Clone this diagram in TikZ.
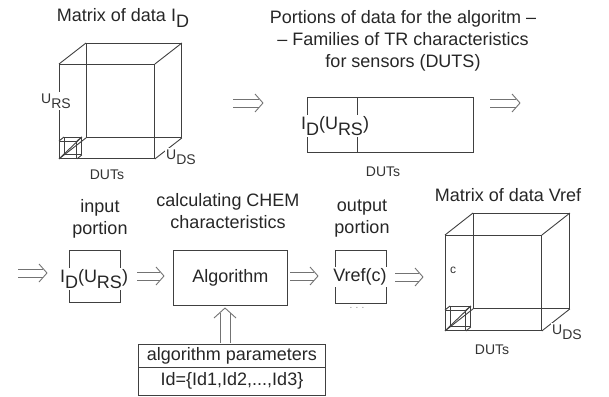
\documentclass[tikz,border=0pt]{standalone}
\usepackage{fontspec}
\setmainfont{Liberation Sans}
\usepackage{graphicx}
\newcommand{\lo}[1]{\raisebox{-0.7ex}{#1}}
% horizontal double arrow (open chevron head) from #1 to #2
\newcommand{\hdarr}[2]{%
  \draw[arrln] ([yshift=4pt]#1) -- ([xshift=-3.6pt,yshift=4pt]#2);
  \draw[arrln] ([yshift=-4pt]#1) -- ([xshift=-3.6pt,yshift=-4pt]#2);
  \draw[arrln] ([xshift=-8pt,yshift=9pt]#2) -- (#2) -- ([xshift=-8pt,yshift=-9pt]#2);}
% upward double arrow from #1 (bottom) to #2 (top)
\newcommand{\vdarr}[2]{%
  \draw[arrln] ([xshift=-5pt]#1) -- ([xshift=-5pt,yshift=-4.5pt]#2);
  \draw[arrln] ([xshift=5pt]#1) -- ([xshift=5pt,yshift=-4.5pt]#2);
  \draw[arrln] ([xshift=-11pt,yshift=-10pt]#2) -- (#2) -- ([xshift=11pt,yshift=-10pt]#2);}
\begin{document}
\begin{tikzpicture}[x=1pt,y=-1pt,
  txt/.style={font=\fontsize{18}{22}\selectfont, text=black!85, inner sep=0pt, align=center},
  lbl/.style={font=\fontsize{14}{16}\selectfont, text=black!80, inner sep=1pt},
  face/.style={draw=black!75, line width=0.9pt, inner sep=0pt, anchor=north west},
  edgeln/.style={draw=black!75, line width=0.9pt},
  arrln/.style={draw=black!55, line width=0.9pt, line join=round},
  boxx/.style={draw=black!75, line width=0.9pt, inner sep=0pt},
  wlab/.style={fill=white, inner sep=1.5pt}
]
\useasboundingbox (0,0) rectangle (609,396);

% ---------- Matrix of data I_D ----------
\node[txt] (t1) at (123,18) {Matrix of data I\lo{D}};
\node[face, minimum width=95pt, minimum height=94pt] (b1) at (86,43) {};
\node[face, minimum width=95pt, minimum height=94pt] (f1) at (59,64) {};
\draw[edgeln] (f1.north west) -- (b1.north west);
\draw[edgeln] (f1.north east) -- (b1.north east);
\draw[edgeln] (f1.south west) -- (b1.south west);
\draw[edgeln] (f1.south east) -- (b1.south east);
% small cube
\node[face, minimum width=17pt, minimum height=17pt] (sb1) at (64,137) {};
\node[face, minimum width=17pt, minimum height=17pt] (sf1) at (59,141) {};
\draw[edgeln] (sf1.north west) -- (sb1.north west);
\draw[edgeln] (sf1.north east) -- (sb1.north east);
\draw[edgeln] (sf1.south east) -- (sb1.south east);
\draw[edgeln] (sf1.south west) -- (sb1.north east);
\node[lbl, wlab] (urs1) at (56,101) {U\lo{RS}};
\node[lbl, wlab] (uds1) at (181,157) {U\lo{DS}};
\node[lbl] (duts1) at (107,175) {DUTs};

% ---------- Portions ----------
\node[txt] (t2) at (403,41) {Portions of data for the algoritm --\\-- Families of TR characteristics\\for sensors (DUTS)};
\node[boxx, minimum width=166pt, minimum height=55pt, anchor=north west] (rect) at (307,97) {};
\coordinate (dv1) at (357,97);
\coordinate (dv2) at (357,152);
\draw[edgeln] (dv1) -- (dv2);
\node[txt, wlab] (idurs1) at (335,126) {I\lo{D}(U\lo{RS})};
\node[lbl] (duts2) at (383,172) {DUTs};
\coordinate (a1s) at (233,103);
\coordinate (a1e) at (263,103);
\hdarr{a1s}{a1e}
\coordinate (a2s) at (490,103);
\coordinate (a2e) at (520,103);
\hdarr{a2s}{a2e}

% ---------- bottom row ----------
\coordinate (a3s) at (18,273);
\coordinate (a3e) at (47,273);
\hdarr{a3s}{a3e}
\node[txt] (t3) at (100,219) {input\\portion};
\node[boxx, minimum width=51pt, minimum height=52pt, anchor=north west] (inb) at (69,250) {};
\node[txt, wlab] (idurs2) at (94,279) {I\lo{D}(U\lo{RS})};
\coordinate (a4s) at (137,276);
\coordinate (a4e) at (164,276);
\hdarr{a4s}{a4e}

\node[txt] (t4) at (228,211) {calculating CHEM\\characteristics};
\node[boxx, minimum width=114pt, minimum height=55pt, anchor=north west] (alg) at (173,250) {};
\node[txt] (algt) at (alg.center) {Algorithm};
\coordinate (a5s) at (290,276);
\coordinate (a5e) at (318,276);
\hdarr{a5s}{a5e}

\node[txt] (t5) at (362,219) {output\\portion};
\node[boxx, minimum width=51pt, minimum height=53pt, anchor=north west] (outb) at (335,250) {};
\node[txt, wlab] (vrefc) at (360,277) {Vref(c)};
\node[font=\fontsize{10}{12}\selectfont, text=black!45, inner sep=0pt] (dots) at (357,308) {.\,\,.\,\,.};
\coordinate (a6s) at (395,277);
\coordinate (a6e) at (423,277);
\hdarr{a6s}{a6e}

% table
\node[boxx, minimum width=187pt, minimum height=23pt, anchor=north west] (tab1) at (138,344) {};
\node[boxx, minimum width=187pt, minimum height=27.5pt, anchor=north west] (tab2) at (138,367) {};
\node[txt] (tab1t) at (tab1.center) {algorithm parameters};
\node[txt] (tab2t) at (tab2.center) {Id=\{Id1,Id2,...,Id3\}};
\coordinate (a7s) at (225,343);
\coordinate (a7e) at (225,308);
\vdarr{a7s}{a7e}

% ---------- Matrix of data Vref ----------
\node[txt] (t6) at (508,195) {Matrix of data Vref};
\node[face, minimum width=96pt, minimum height=95pt] (b2) at (473,213) {};
\node[face, minimum width=96pt, minimum height=95pt] (f2) at (445,235) {};
\draw[edgeln] (f2.north west) -- (b2.north west);
\draw[edgeln] (f2.north east) -- (b2.north east);
\draw[edgeln] (f2.south west) -- (b2.south west);
\draw[edgeln] (f2.south east) -- (b2.south east);
\node[face, minimum width=20pt, minimum height=20pt] (sb2) at (450,306) {};
\node[face, minimum width=20pt, minimum height=20pt] (sf2) at (445,310) {};
\draw[edgeln] (sf2.north west) -- (sb2.north west);
\draw[edgeln] (sf2.north east) -- (sb2.north east);
\draw[edgeln] (sf2.south east) -- (sb2.south east);
\draw[edgeln] (sf2.south west) -- (sb2.north east);
\node[lbl, font=\fontsize{12}{14}\selectfont] (clab) at (453,270) {c};
\node[lbl, wlab] (uds2) at (567,332) {U\lo{DS}};
\node[lbl] (duts3) at (492,350) {DUTs};
\end{tikzpicture}
\end{document}
